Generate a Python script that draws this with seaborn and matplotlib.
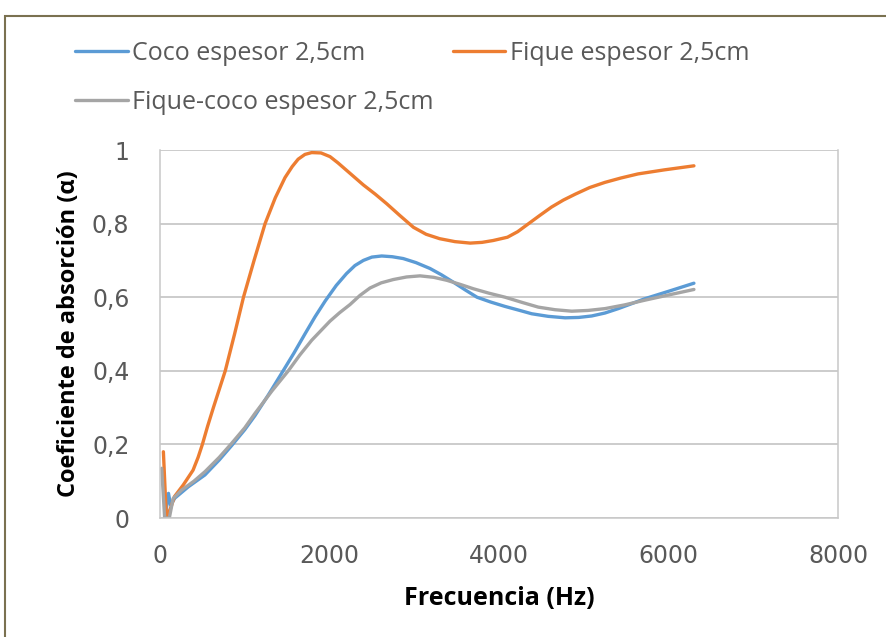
import pandas as pd
import matplotlib.pyplot as plt
import seaborn as sns
from matplotlib.patches import Rectangle

# Values (frequency in Hz, absorption coefficient)
coco_freq = [60, 100, 125, 175, 335, 530, 700, 846, 1000, 1120, 1280, 1440, 1580, 1710, 1830,
             1950, 2080, 2200, 2300, 2400, 2500, 2616, 2740, 2870, 3020, 3186, 3320, 3460,
             3600, 3740, 3900, 4070, 4230, 4386, 4580, 4780, 4940, 5094, 5250, 5408, 5560,
             5723, 6000, 6300]
coco_alpha = [0.0, 0.067, 0.035, 0.054, 0.085, 0.117, 0.158, 0.197, 0.24, 0.278, 0.335,
              0.395, 0.448, 0.50, 0.547, 0.59, 0.632, 0.664, 0.686, 0.70, 0.709, 0.712, 0.710,
              0.705, 0.694, 0.678, 0.661, 0.641, 0.62, 0.60, 0.587, 0.575, 0.565, 0.555, 0.548,
              0.544, 0.545, 0.549, 0.557, 0.569, 0.582, 0.596, 0.616, 0.638]

fique_freq = [40, 75, 130, 170, 275, 390, 450, 500, 560, 630, 700, 770, 880, 985, 1110, 1240,
              1360, 1475, 1560, 1630, 1710, 1790, 1900, 2006, 2100, 2200, 2300, 2400, 2540,
              2675, 2830, 2990, 3140, 3300, 3480, 3660, 3800, 3930, 4100, 4220, 4350, 4480,
              4620, 4760, 4900, 5070, 5250, 5440, 5640, 5950, 6300]
fique_alpha = [0.18, 0.0, 0.03, 0.058, 0.09, 0.13, 0.165, 0.2, 0.248, 0.30, 0.35, 0.40, 0.50,
               0.60, 0.70, 0.80, 0.87, 0.925, 0.955, 0.975, 0.988, 0.993, 0.992, 0.982, 0.965,
               0.945, 0.925, 0.905, 0.88, 0.854, 0.822, 0.79, 0.771, 0.759, 0.751, 0.747,
               0.749, 0.754, 0.763, 0.778, 0.80, 0.822, 0.845, 0.864, 0.88, 0.898, 0.912, 0.924,
               0.935, 0.946, 0.957]

mix_freq = [20, 55, 110, 155, 256, 400, 531, 700, 846, 1000, 1120, 1320, 1514, 1650, 1790,
            2006, 2120, 2242, 2360, 2478, 2610, 2753, 2910, 3068, 3230, 3383, 3540, 3697,
            3880, 4071, 4270, 4464, 4660, 4858, 5050, 5251, 5480, 5723, 6000, 6300]
mix_alpha = [0.135, 0.0, 0.0, 0.053, 0.076, 0.10, 0.126, 0.165, 0.203, 0.245, 0.284, 0.345,
             0.40, 0.443, 0.483, 0.535, 0.558, 0.58, 0.605, 0.625, 0.639, 0.648, 0.655, 0.658,
             0.654, 0.646, 0.635, 0.623, 0.611, 0.60, 0.586, 0.573, 0.566, 0.562, 0.564,
             0.569, 0.579, 0.592, 0.606, 0.621]

series_names = ["Coco espesor 2,5cm", "Fique espesor 2,5cm", "Fique-coco espesor 2,5cm"]
series_colors = ["#5b9bd5", "#ed7d31", "#a5a5a5"]

x_ticks = [0, 2000, 4000, 6000, 8000]
x_tick_labels = ["0", "2000", "4000", "6000", "8000"]
y_ticks = [0, 0.2, 0.4, 0.6, 0.8, 1.0]
y_tick_labels = ["0", "0,2", "0,4", "0,6", "0,8", "1"]

# Long-form table for seaborn
df = pd.concat([
    pd.DataFrame({"freq": coco_freq, "alpha": coco_alpha, "serie": series_names[0]}),
    pd.DataFrame({"freq": fique_freq, "alpha": fique_alpha, "serie": series_names[1]}),
    pd.DataFrame({"freq": mix_freq, "alpha": mix_alpha, "serie": series_names[2]}),
], ignore_index=True)

sns.set_theme(style="white")
plt.rcParams['font.family'] = ['Open Sans', 'DejaVu Sans']

fig = plt.figure(figsize=(8.87, 6.37), dpi=100)
ax = fig.add_axes([160 / 887, 1 - 518 / 637, 678 / 887, 368 / 637])

sns.lineplot(data=df, x="freq", y="alpha", hue="serie", hue_order=series_names,
             palette=dict(zip(series_names, series_colors)), sort=False, estimator=None,
             linewidth=2.4, ax=ax, legend=False,
             solid_joinstyle="round", solid_capstyle="round")

ax.set_xlim(0, 8000)
ax.set_ylim(0, 1)
ax.set_xticks(x_ticks)
ax.set_xticklabels(x_tick_labels, family="DejaVu Sans")
ax.set_yticks(y_ticks)
ax.set_yticklabels(y_tick_labels, family="DejaVu Sans")
ax.tick_params(axis="both", length=0, labelsize=17, colors="#595959")
ax.tick_params(axis="y", pad=22)
ax.tick_params(axis="x", pad=19)
ax.grid(axis="y", color="#c8c8c8", linewidth=1.3)
ax.set_axisbelow(True)
for side in ["left", "right", "bottom"]:
    ax.spines[side].set_color("#c8c8c8")
    ax.spines[side].set_linewidth(1.1)
ax.spines["top"].set_visible(False)

ax.set_xlabel("Frecuencia (Hz)", fontsize=18, fontweight="bold", color="black", labelpad=13)
ax.set_ylabel("Coeficiente de absorción (α)", fontsize=17, fontweight="bold", color="black", labelpad=8)

# Legend: two columns at the top, column-wise order Coco / Fique-coco | Fique
handles = [plt.Line2D([], [], color=c, linewidth=2.4) for c in series_colors]
order = [0, 2, 1]
fig.legend([handles[i] for i in order], [series_names[i] for i in order],
           ncol=2, loc="upper left", bbox_to_anchor=(75 / 887, 1 - 41 / 637),
           frameon=False, fontsize=18, handlelength=2.1, handletextpad=0.2,
           columnspacing=0.75, labelspacing=0.95, borderpad=0, borderaxespad=0,
           labelcolor="#595959")

# Outer chart frame
fig.patches.append(Rectangle((5 / 887, -0.05), 1.1, 1 - 16 / 637 + 0.05,
                             transform=fig.transFigure, fill=False,
                             edgecolor="#7a7150", linewidth=1.5))

fig.savefig("out.png", dpi=100)
